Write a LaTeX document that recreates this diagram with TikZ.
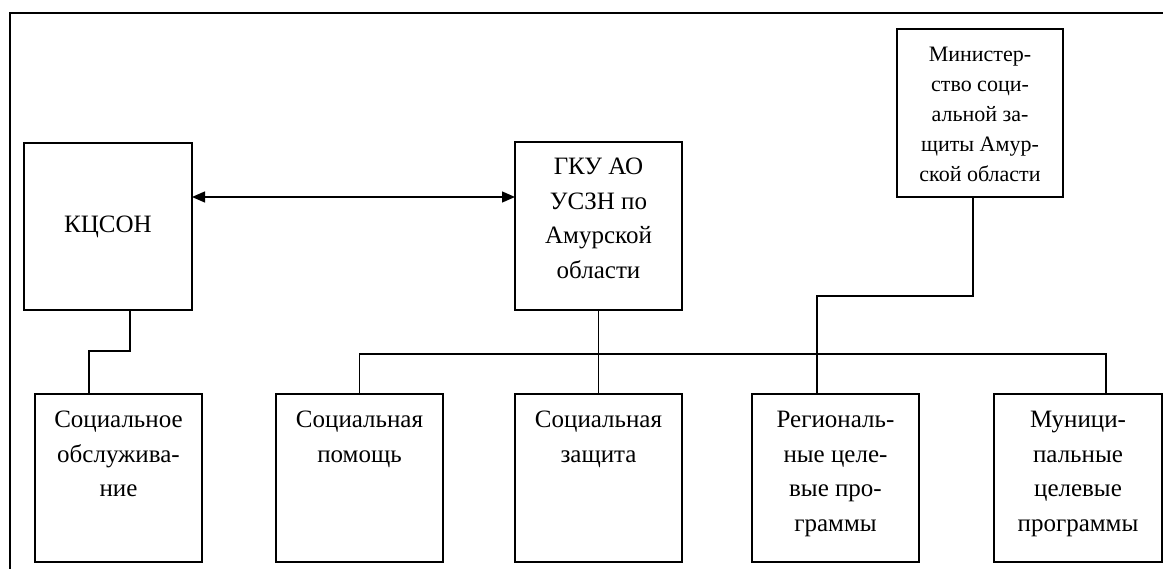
\documentclass[tikz,border=0pt]{standalone}
\usepackage{fontspec}
\setmainfont{Liberation Serif}
\usetikzlibrary{arrows.meta}
\begin{document}
\begin{tikzpicture}[x=1pt,y=-1pt,line width=1.3pt,
  box/.style={draw,inner sep=0pt,outer sep=0pt,minimum width=167pt,minimum height=168pt},
  txt/.style={inner sep=0pt,align=center,font=\fontsize{25}{34.5}\selectfont},
  toptxt/.style={txt,anchor=north},
  mintxt/.style={inner sep=0pt,align=center,anchor=north,font=\fontsize{22}{30}\selectfont},
  biarrow/.style={{Triangle[length=13pt,width=11pt]}-{Triangle[length=13pt,width=11pt]}}]
\useasboundingbox (0,0) rectangle (1163,569);
% frame
\draw (10,575) -- (10,13) -- (1170,13);
% boxes
\node[box,minimum width=168pt,minimum height=167pt] (k) at (108,226.5) {};
\node[box] (g) at (598.5,226) {};
\node[box,minimum width=166pt] (m) at (980,113) {};
\node[box] (s1) at (118.5,478) {};
\node[box] (s2) at (359.5,478) {};
\node[box] (s3) at (598.5,478) {};
\node[box] (s4) at (835.5,478) {};
\node[box,minimum width=168pt] (s5) at (1078,478) {};
% texts
\node[txt] at (k) {КЦСОН};
\node[toptxt] at ([yshift=-8pt]g.north) {\strut ГКУ АО\\УСЗН по\\Амурской\\области};
\node[mintxt] at ([yshift=-11pt]m.north) {\strut Министер-\\ство соци-\\альной за-\\щиты Амур-\\ской области};
\node[toptxt] at ([yshift=-9pt]s1.north) {\strut Социальное\\обслужива-\\ние};
\node[toptxt] at ([yshift=-9pt]s2.north) {\strut Социальная\\помощь};
\node[toptxt] at ([yshift=-9pt]s3.north) {\strut Социальная\\защита};
\node[toptxt] at ([yshift=-9pt]s4.north) {\strut Региональ-\\ные целе-\\вые про-\\граммы};
\node[toptxt] at ([yshift=-9pt]s5.north) {\strut Муници-\\пальные\\целевые\\программы};
% connectors
\draw[biarrow] ([yshift=29.5pt]k.east) -- ([yshift=29.5pt]k.east -| g.west);
\draw ([xshift=22pt]k.south) -- ++(0,41) -| ([xshift=-29.5pt]s1.north);
\draw (g.south) -- (s3.north);
\draw (s2.north) -- ++(0,-40) -| ([xshift=28pt]s5.north);
\draw ([xshift=-7pt]m.south) -- ++(0,99) -| ([xshift=-18.5pt]s4.north);
\end{tikzpicture}
\end{document}
